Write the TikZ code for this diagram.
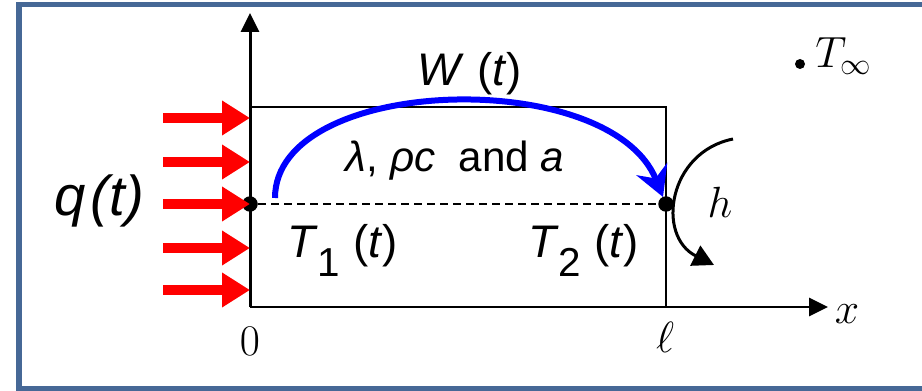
\documentclass[tikz,border=0pt]{standalone}
\usepackage{fontspec}
\setmainfont{Liberation Sans}
\usetikzlibrary{arrows.meta,positioning,calc}
\definecolor{framecol}{RGB}{70,104,150}
\definecolor{fluxred}{RGB}{255,0,0}
\definecolor{arcblue}{RGB}{0,0,255}
\newcommand{\Tsub}[1]{\textit{T}\raisebox{-0.41em}{\fontsize{23}{24}\selectfont #1}}

\begin{document}
\begin{tikzpicture}[x=0.02cm, y=-0.02cm,
    axis/.style={line width=0.06cm, -{Triangle[length=0.38cm,width=0.36cm]}},
    wall/.style={line width=0.05cm},
    flux/.style={line width=0.2cm, fluxred, -{Triangle[length=0.56cm,width=0.66cm]}},
    probe/.style={circle, fill=black, inner sep=0pt, minimum size=0.31cm},
    lbl/.style={inner sep=0pt, font=\fontsize{26}{30}\selectfont},
    mlbl/.style={inner sep=0pt, font=\fontsize{25}{30}\selectfont}
]
\useasboundingbox (0,0) rectangle (922,391);
\draw[framecol, line width=0.11cm] (19,4.5) rectangle (935,389);

% axes and slab
\coordinate (O) at (250,307);
\coordinate (ytip) at (250,13);
\coordinate (xtip) at (828,307);
\draw[axis] (O) -- (ytip);
\draw[axis] (O) -- (xtip);
\draw[wall] (250,107) -| (666,307);

% nodes on the mid line
\node[probe] (p1) at (250,204) {};
\node[probe] (p2) at (666,204) {};
\draw[line width=0.04cm, dash pattern=on 0.16cm off 0.1cm] (p1) -- (p2);

% heat flux arrows
\foreach \yy [count=\i] in {118,162,204,248,290} {
  \coordinate (fs\i) at (163,\yy);
  \coordinate (fe\i) at (250,\yy);
  \draw[flux] (fs\i) -- (fe\i);
}

% energy transport arc
\coordinate (wa) at (275,198);
\coordinate (wb) at (663,197);
\draw[arcblue, line width=0.12cm, -{Stealth[length=0.6cm,width=0.66cm,inset=0.2cm]}]
  (wa) .. controls (275,75) and (610,65) .. (wb);

% convection arrow
\coordinate (ha) at (733,139);
\coordinate (hb) at (714,265);
\draw[line width=0.06cm, -{Triangle[length=0.42cm,width=0.44cm]}]
  (ha) .. controls (668,152) and (656,236) .. (hb);

% labels
\node[inner sep=0pt, font=\fontsize{32}{34}\selectfont\itshape] (q) at (99,201) {q\kern3pt(t)};
\node[lbl] (W) at (470,74) {\textit{W} (\textit{t})};
\node[inner sep=0pt, font=\fontsize{24}{26}\selectfont, anchor=base] (prop) at (455,172) {\textit{λ}, \textit{ρc}\ \ and \textit{a}};
\node[lbl, anchor=base west] (T1) at (287,258) {\Tsub{1}\ (\textit{t})};
\node[lbl, anchor=base west] (T2) at (528,258) {\Tsub{2}\ (\textit{t})};
\node[mlbl, font=\fontsize{28}{30}\selectfont, anchor=base] (h) at (720,218) {$h$};
\fill (800,64) circle (0.1cm);
\node[mlbl, font=\fontsize{27}{30}\selectfont, anchor=base west] (Tinf) at (815,68) {$T_\infty$};
\node[mlbl] (zero) at (250,341) {$0$};
\node[mlbl] (ell) at (665,337) {$\ell$};
\node[mlbl, font=\fontsize{29}{30}\selectfont, anchor=base] (x) at (847,323) {$x$};
\end{tikzpicture}
\end{document}
